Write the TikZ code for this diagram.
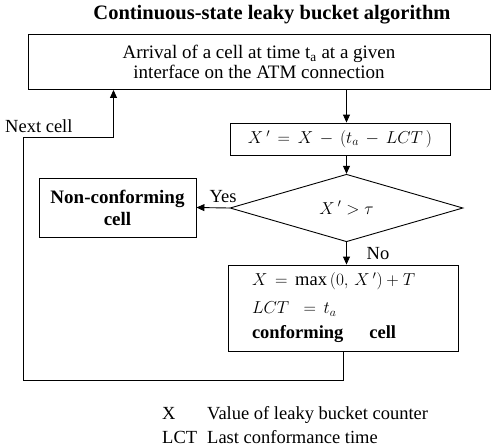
\documentclass[tikz,border=0pt]{standalone}
\usepackage{fontspec}
\setmainfont{Liberation Serif}
\usetikzlibrary{shapes.geometric, arrows.meta, positioning, calc}

\begin{document}
\begin{tikzpicture}[x=1pt, y=-1pt,
    box/.style={draw, line width=0.9pt, inner sep=0pt, align=center, font=\fontsize{18.5}{19.5}\selectfont},
    decision/.style={draw, diamond, line width=0.9pt, inner sep=0pt, minimum width=233pt, minimum height=60pt, font=\fontsize{18.5}{19.5}\selectfont},
    arr/.style={-{Triangle[length=8pt, width=7pt]}, line width=0.9pt},
    lbl/.style={inner sep=0pt, font=\fontsize{18.5}{18}\selectfont},
]
\useasboundingbox (0,0) rectangle (491,448);

% Title
\node[font=\bfseries\fontsize{20.5}{20}\selectfont] (title) at (272, 15) {Continuous-state leaky bucket algorithm};

% Flow chart boxes
\node[box, minimum width=462pt, minimum height=55pt, font=\fontsize{19}{19.5}\selectfont] (arrival) at (259, 62)
    {Arrival of a cell at time t\textsubscript{a} at a given\\interface on the ATM connection};
\node[box, minimum width=220pt, minimum height=32pt] (update) at (340, 139)
    {$X\,' \,=\, X \,-\, \Bigl(t_a \,-\, LCT\,\Bigr)$};
\node[decision] (test) at (346.5, 208) {$X\,' > \tau$};
\node[box, minimum width=157pt, minimum height=59pt, font=\bfseries\fontsize{19}{22}\selectfont] (nonconf) at (117.5, 207.5)
    {Non-conforming\\cell};
\node[box, minimum width=230pt, minimum height=86pt, inner xsep=24pt, text width=182pt, align=left] (result) at (343, 308)
    {\mbox{$X \,=\, \max\,\Bigl(0,\, X\,'\Bigr) + T$}\\[8pt]
     \mbox{$LCT\;\;=\, t_a$}\\[6pt]
     \mbox{\bfseries conforming\hspace{1.4em}cell}};

% Arrows -- main line straight down
\draw[arr] (arrival.south -| test.north) -- (update.north -| test.north);
\draw[arr] (update.south -| test.north) -- (test.north);
\draw[arr] (test.west) -- (nonconf.east);
\draw[arr] (test.south) -- (result.north -| test.south);
\node[lbl] (yes) at (223, 197) {Yes};
\node[lbl] (no) at (378, 254) {No};

% Loop back to the next cell
\coordinate (turn) at (113.5, 137);
\draw[arr] (result.south) -- ++(0, 29) -| (23, 137) -- (turn) -- (turn |- arrival.south);
\node[lbl, anchor=base west] (next) at (5, 132) {Next cell};

% Legend
\node[lbl, anchor=base west] (legx) at (162, 419) {X};
\node[lbl, anchor=base west] (legxtext) at (207, 419) {Value of leaky bucket counter};
\node[lbl, anchor=base west] (leglct) at (162, 443) {LCT};
\node[lbl, anchor=base west] (leglcttext) at (207, 443) {Last conformance time};

\end{tikzpicture}
\end{document}
